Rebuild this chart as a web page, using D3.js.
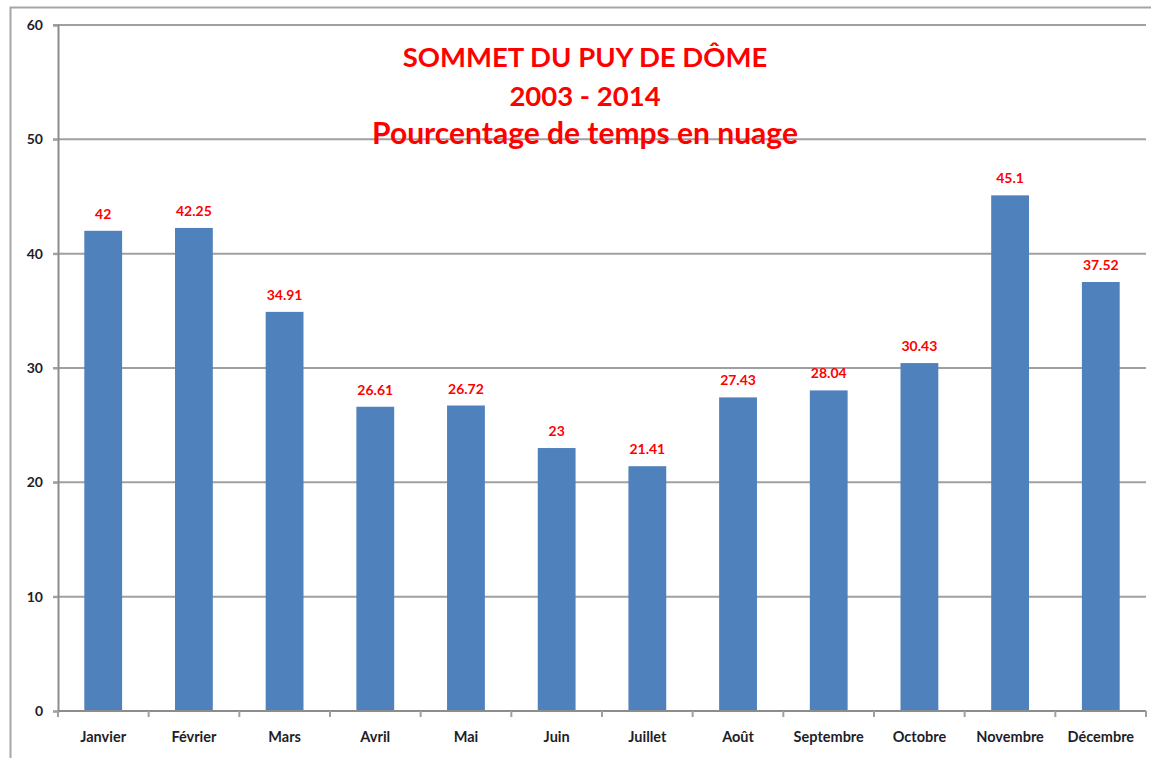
<!DOCTYPE html>
<html><head><meta charset="utf-8">
<script src="https://cdn.jsdelivr.net/npm/d3@7"></script>
<style>body{margin:0;background:#fff;}svg{display:block;font-family:Lato,"Open Sans",sans-serif;}</style>
</head><body>
<svg id="c" width="1151" height="758"></svg>
<script>
const months = ["Janvier","Février","Mars","Avril","Mai","Juin","Juillet","Août","Septembre","Octobre","Novembre","Décembre"];
const values = [42,42.25,34.91,26.61,26.72,23,21.41,27.43,28.04,30.43,45.1,37.52];
const labels = ["42","42.25","34.91","26.61","26.72","23","21.41","27.43","28.04","30.43","45.1","37.52"];
const yTicks = [0,10,20,30,40,50,60];
const titleLines = ["SOMMET DU PUY DE DÔME","2003 - 2014","Pourcentage de temps en nuage"];

const svg = d3.select("#c");
// outer frame
svg.append("path").attr("d","M10.5,758 L10.5,7.5 L1151,7.5").attr("fill","none").attr("stroke","#a6a6a6").attr("stroke-width",2);

const x = d3.scaleBand().domain(months).range([58,1146]).paddingInner(0.583).paddingOuter(0.29);
const y = d3.scaleLinear().domain([0,60]).range([711,25]);

// gridlines
svg.append("g").selectAll("line").data(yTicks.filter(d=>d>0)).join("line")
  .attr("x1",53).attr("x2",1146).attr("y1",d=>y(d)).attr("y2",d=>y(d))
  .attr("stroke","#a0a0a0").attr("stroke-width",2);

// title
svg.append("g").selectAll("text").data(titleLines).join("text")
  .attr("x",585).attr("y",(d,i)=>[67,106,144][i])
  .attr("text-anchor","middle").attr("fill","#ff0000").attr("font-weight","bold")
  .attr("font-size",(d,i)=>[27.5,27.5,30][i]).text(d=>d);

// bars
svg.append("g").selectAll("rect").data(values).join("rect")
  .attr("x",(d,i)=>x(months[i])).attr("width",x.bandwidth())
  .attr("y",d=>y(d)).attr("height",d=>y(0)-y(d))
  .attr("fill","#4f81bd");

// data labels
svg.append("g").selectAll("text").data(values).join("text")
  .attr("x",(d,i)=>x(months[i])+x.bandwidth()/2).attr("y",d=>y(d)-12)
  .attr("text-anchor","middle").attr("fill","#ff0000").attr("font-weight","bold")
  .attr("font-size",14).text((d,i)=>labels[i]);

// y axis
const yAxis = d3.axisLeft(y).tickValues(yTicks).tickSize(5).tickPadding(10);
const gy = svg.append("g").attr("transform","translate(58,0)").call(yAxis);
gy.select(".domain").attr("stroke","#8c8c8c").attr("stroke-width",2);
gy.selectAll(".tick line").attr("stroke","#a0a0a0").attr("stroke-width",2);
gy.selectAll("text").attr("font-size",14).attr("font-weight","bold").attr("fill","#1e1e28").attr("font-family","Lato,sans-serif");

// x axis
const xb = d3.scaleLinear().domain([0,12]).range([58,1146]);
const gx = svg.append("g").attr("transform","translate(0,711)");
gx.append("line").attr("x1",58).attr("x2",1146).attr("y1",0).attr("y2",0).attr("stroke","#8c8c8c").attr("stroke-width",2);
gx.selectAll("line.t").data(d3.range(13)).join("line").attr("class","t")
  .attr("x1",d=>xb(d)).attr("x2",d=>xb(d)).attr("y1",0).attr("y2",6)
  .attr("stroke","#a0a0a0").attr("stroke-width",2);
gx.selectAll("text").data(months).join("text")
  .attr("x",d=>x(d)+x.bandwidth()/2).attr("y",31)
  .attr("text-anchor","middle").attr("font-size",14.5).attr("font-weight","bold")
  .attr("fill","#1e1e28").text(d=>d);
</script>
</body></html>
